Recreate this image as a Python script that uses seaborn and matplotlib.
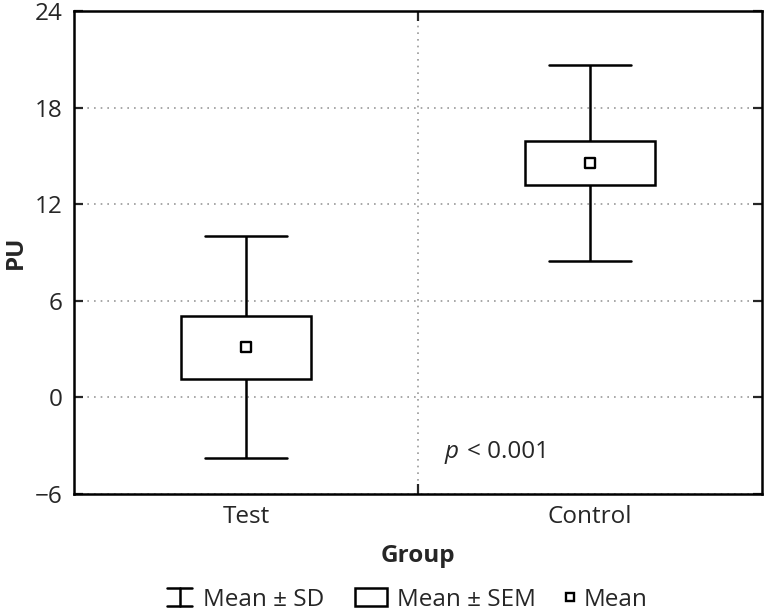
import matplotlib
matplotlib.use("Agg")
import matplotlib.pyplot as plt
import seaborn as sns
import pandas as pd
from matplotlib.legend_handler import HandlerBase
from matplotlib.lines import Line2D
from matplotlib.patches import Rectangle

groups = ["Test", "Control"]
means = [3.12, 14.55]
sd = [6.88, 6.1]
sem = [1.95, 1.36]
y_ticks = [-6, 0, 6, 12, 18, 24]
legend_labels = ["Mean ± SD", "Mean ± SEM", "Mean"]

FONT = "Open Sans"
FS = 17.5
PX = FS * 100 / 72  # font size in pixels

sns.set_theme(style="white")
plt.rcParams["font.family"] = [FONT, "DejaVu Sans"]

df = pd.DataFrame({"Group": groups, "Mean": means, "SD": sd, "SEM": sem})
df["pos"] = range(len(df))

fig = plt.figure(figsize=(7.64, 6.13), dpi=100)
ax = fig.add_axes([74 / 764, 119 / 613, 688 / 764, 483 / 613])

lw = 1.8
box_w = 0.378
cap_w = 0.24
for _, r in df.iterrows():
    x = r["pos"]
    lo, hi = r["Mean"] - r["SD"], r["Mean"] + r["SD"]
    ax.plot([x, x], [lo, hi], color="black", lw=lw, zorder=2, solid_capstyle="butt")
    ax.plot([x - cap_w / 2, x + cap_w / 2], [hi, hi], color="black", lw=lw, zorder=2)
    ax.plot([x - cap_w / 2, x + cap_w / 2], [lo, lo], color="black", lw=lw, zorder=2)
    ax.bar(x, 2 * r["SEM"], bottom=r["Mean"] - r["SEM"], width=box_w,
           facecolor="white", edgecolor="black", linewidth=lw, zorder=3)

sns.scatterplot(data=df, x="pos", y="Mean", marker="s", s=42, facecolor="white",
                edgecolor="black", linewidth=1.7, ax=ax, zorder=4, legend=False)

ax.set_xlim(-0.5, 1.5)
ax.set_ylim(-6, 24)
ax.set_yticks(y_ticks)
ax.set_xticks(df["pos"])
ax.set_xticklabels(groups)
ax.set_xticks([0.5], minor=True)
ax.tick_params(axis="x", which="major", length=0, pad=8, labelsize=FS)
ax.tick_params(axis="x", which="minor", direction="in", length=7.2, width=1.6,
               top=True, bottom=True)
ax.tick_params(axis="y", which="major", direction="in", length=6.5, width=1.6,
               left=True, right=True, pad=8, labelsize=FS)
ax.grid(True, axis="y", which="major", linestyle=(0, (1, 3)), color="#999999", lw=1.2)
ax.grid(True, axis="x", which="minor", linestyle=(0, (1, 3)), color="#999999", lw=1.2)
ax.grid(False, axis="x", which="major")
ax.set_axisbelow(True)
for s in ax.spines.values():
    s.set_color("black")
    s.set_linewidth(1.8)

ax.set_xlabel("Group", fontsize=FS, fontweight="bold", labelpad=11)
ax.set_ylabel("PU", fontsize=FS, fontweight="bold", labelpad=5)
ax.text(0.578, -3.77, "p", fontsize=FS, style="italic", va="baseline", ha="left")
ax.text(0.642, -3.77, "< 0.001", fontsize=FS, va="baseline", ha="left")


class SDHandler(HandlerBase):
    def create_artists(self, legend, orig_handle, xd, yd, width, height, fontsize, trans):
        cx = xd + width / 2
        top = yd + height
        bot = yd
        kw = dict(color="black", lw=1.8, transform=trans)
        return [Line2D([cx, cx], [bot, top], **kw),
                Line2D([xd, xd + width], [top, top], **kw),
                Line2D([xd, xd + width], [bot, bot], **kw)]


class BoxHandler(HandlerBase):
    def create_artists(self, legend, orig_handle, xd, yd, width, height, fontsize, trans):
        r = Rectangle((xd, yd), width, height, facecolor="white",
                      edgecolor="black", lw=1.8, transform=trans)
        return [r]


class MeanHandler(HandlerBase):
    def create_artists(self, legend, orig_handle, xd, yd, width, height, fontsize, trans):
        m = Line2D([xd + width / 2], [yd + height / 2], marker="s", linestyle="none",
                   markersize=5.5, markerfacecolor="white", markeredgecolor="black",
                   markeredgewidth=1.7, transform=trans)
        return [m]


handles = [Line2D([], []), Rectangle((0, 0), 1, 1), Line2D([], [], marker="s")]
handlers = [SDHandler(), BoxHandler(), MeanHandler()]
starts_px = [167, 355, 566]
hlen_px = [25, 32, 8]
pad_px = [11, 10, 10]
legend_y = 1 - 600 / 613
for h, hd, lab, x0, hl, pd_ in zip(handles, handlers, legend_labels, starts_px, hlen_px, pad_px):
    fig.legend([h], [lab], handler_map={h: hd}, loc="center left",
               bbox_to_anchor=(x0 / 764, legend_y), frameon=False, fontsize=FS,
               handlelength=hl / PX, handletextpad=pd_ / PX, borderpad=0,
               borderaxespad=0, handleheight=0.75)

fig.savefig("out.png", dpi=100)
